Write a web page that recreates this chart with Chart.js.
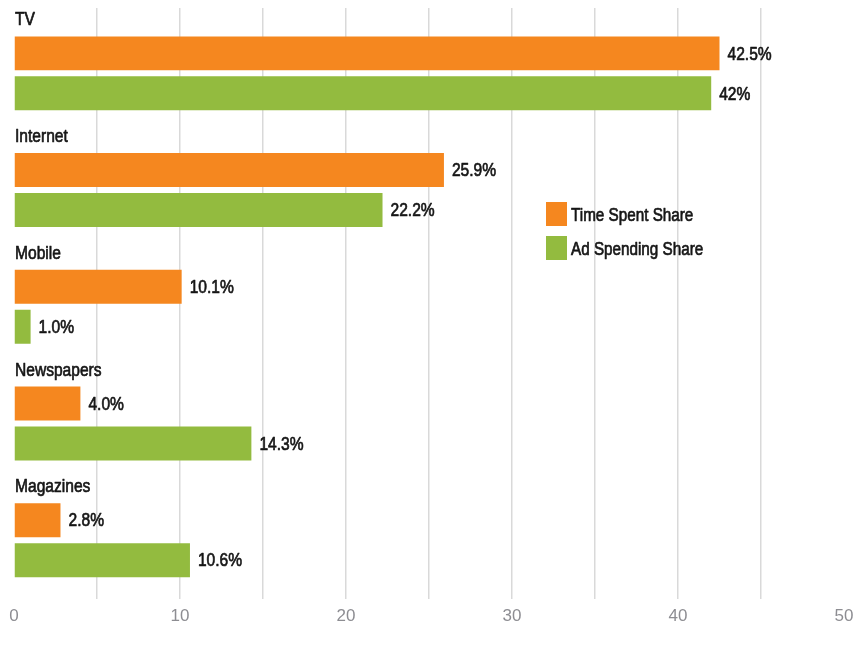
<!DOCTYPE html>
<html>
<head>
<meta charset="utf-8">
<title>Time Spent vs Ad Spending</title>
<script src="https://cdn.jsdelivr.net/npm/chart.js@4.4.1/dist/chart.umd.min.js"></script>
<style>
  html, body { margin: 0; padding: 0; background: #fff; }
  #wrap { position: relative; width: 866px; height: 656px; }
</style>
</head>
<body>
<div id="wrap"><canvas id="mediaChart"></canvas></div>
<script>
const categories = ['TV', 'Internet', 'Mobile', 'Newspapers', 'Magazines'];
// shares in percent, kept as text so the printed labels keep their own precision
const timeSpentShare = ['42.5', '25.9', '10.1', '4.0', '2.8'];
const adSpendingShare = ['42', '22.2', '1.0', '14.3', '10.6'];
const seriesNames = ['Time Spent Share', 'Ad Spending Share'];
const xTicks = [0, 10, 20, 30, 40, 50];

const FONT = '"Liberation Sans", Arial, sans-serif';
const TEXT = '#161616';

// no line at the two ends of the scale
const gridColor = (c) => (c.tick && (c.tick.value === 0 || c.tick.value === 50)) ? 'rgba(0,0,0,0)' : '#d9d9d9';

// squeeze the regular face into a narrow one, with a hairline stroke for a medium weight
function narrowText(ctx, text, x, y, size) {
  ctx.save();
  ctx.translate(x, y);
  ctx.scale(0.82, 1);
  ctx.font = size + 'px ' + FONT;
  ctx.strokeStyle = ctx.fillStyle;
  ctx.lineWidth = 0.7;
  ctx.lineJoin = 'round';
  ctx.fillText(text, 0, 0);
  ctx.strokeText(text, 0, 0);
  ctx.restore();
}

const barLabels = {
  id: 'barLabels',
  afterDatasetsDraw(chart) {
    const ctx = chart.ctx;
    ctx.save();
    ctx.fillStyle = TEXT;
    ctx.textAlign = 'left';
    ctx.textBaseline = 'middle';
    chart.data.datasets.forEach((ds, i) => {
      chart.getDatasetMeta(i).data.forEach((bar, j) => {
        narrowText(ctx, ds.valueText[j] + '%', bar.x + 8, bar.y + 1, 19);
      });
    });
    // group names go above the first bar of each pair
    ctx.textBaseline = 'alphabetic';
    const first = chart.getDatasetMeta(0).data;
    categories.forEach((name, j) => {
      const bar = first[j];
      narrowText(ctx, name, chart.chartArea.left + 1, bar.y - bar.height / 2 - 11, 19);
    });
    ctx.restore();
  }
};

const boxLegend = {
  id: 'boxLegend',
  afterDraw(chart) {
    const ctx = chart.ctx;
    ctx.save();
    ctx.textBaseline = 'middle';
    ctx.textAlign = 'left';
    chart.data.datasets.forEach((ds, i) => {
      const top = 202 + i * 34;
      ctx.fillStyle = ds.backgroundColor;
      ctx.fillRect(546, top, 21, 24);
      ctx.fillStyle = TEXT;
      narrowText(ctx, ds.label, 571, top + 14, 18.6);
    });
    ctx.restore();
  }
};

new Chart(document.getElementById('mediaChart'), {
  type: 'bar',
  data: {
    labels: categories,
    datasets: [
      { label: seriesNames[0], data: timeSpentShare.map(Number), valueText: timeSpentShare, backgroundColor: '#F5871F' },
      { label: seriesNames[1], data: adSpendingShare.map(Number), valueText: adSpendingShare, backgroundColor: '#93BB3F' }
    ]
  },
  options: {
    indexAxis: 'y',
    responsive: true,
    maintainAspectRatio: false,
    animation: false,
    datasets: { bar: { categoryPercentage: 0.685, barPercentage: 0.85 } },
    layout: { padding: { left: 14, right: 22, top: 8, bottom: 23 } },
    plugins: { legend: { display: false }, tooltip: { enabled: false } },
    scales: {
      y: { display: false },
      x: {
        min: 0, max: 50,
        border: { display: false },
        // invisible tick marks just push the labels down
        grid: { color: gridColor, lineWidth: 1.5, drawTicks: true, tickLength: 2, tickColor: 'rgba(0,0,0,0)' },
        ticks: {
          stepSize: 5, autoSkip: false, maxRotation: 0, padding: 6,
          color: '#8d8d92', font: { family: FONT, size: 17 },
          callback: (v) => xTicks.includes(v) ? v : ''
        }
      },
      // top copy of the value axis only lets the grid lines run a little above the plot
      xTop: {
        type: 'linear', axis: 'x', position: 'top', min: 0, max: 50,
        border: { display: false },
        grid: { color: gridColor, tickColor: gridColor, lineWidth: 1.5, drawOnChartArea: false, drawTicks: true, tickLength: 7 },
        ticks: { display: false, stepSize: 5 }
      }
    }
  },
  plugins: [barLabels, boxLegend]
});
</script>
</body>
</html>
